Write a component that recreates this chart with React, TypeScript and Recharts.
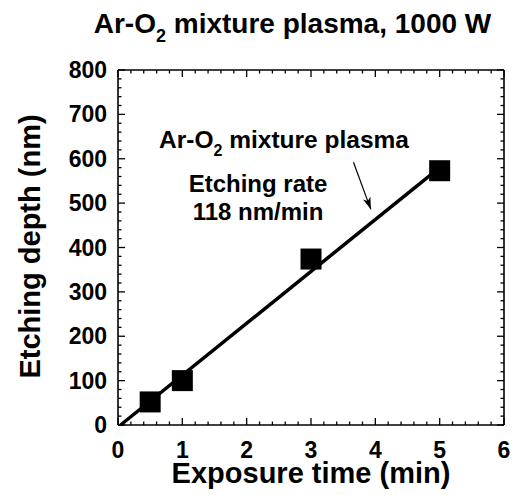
import { ComposedChart, XAxis, YAxis, Line, Scatter, ReferenceLine } from 'recharts';

const timeMin = [0.5, 1, 3, 5];
const depthNm = [52, 100, 374, 573];

// fitted line (118 nm/min)
const fitTime = [0.04, 5];
const fitDepth = [0, 580];

// little arrow pointing at the fit line
const arrowTime = [3.66, 3.93];
const arrowDepth = [592, 486];

const xMajor = [0, 1, 2, 3, 4, 5, 6];
const yMajor = [0, 100, 200, 300, 400, 500, 600, 700, 800];

const withMinor = (major: number[], parts: number) => {
  const out: number[] = [];
  major.forEach((v, i) => {
    out.push(v);
    if (i < major.length - 1) {
      const step = (major[i + 1] - v) / parts;
      for (let j = 1; j < parts; j++) out.push(+(v + j * step).toFixed(4));
    }
  });
  return out;
};

const isMajor = (list: number[], v: number) => list.some((m) => Math.abs(m - v) < 1e-6);

const xTicks = withMinor(xMajor, 5);
const yTicks = withMinor(yMajor, 5);

const points = timeMin.map((t, i) => ({ x: t, y: depthNm[i] }));
const fit = fitTime.map((t, i) => ({ x: t, y: fitDepth[i] }));
const arrow = arrowTime.map((t, i) => ({ x: t, y: arrowDepth[i] }));

// inward tick marks on all four sides of the frame
const xMin = xMajor[0];
const xMax = xMajor[xMajor.length - 1];
const yMin = yMajor[0];
const yMax = yMajor[yMajor.length - 1];
const bottomTicks = xTicks.map((v) => ({ x: v, y: yMin, major: isMajor(xMajor, v) }));
const topTicks = xTicks.map((v) => ({ x: v, y: yMax, major: isMajor(xMajor, v) }));
const leftTicks = yTicks.map((v) => ({ x: xMin, y: v, major: isMajor(yMajor, v) }));
const rightTicks = yTicks.map((v) => ({ x: xMax, y: v, major: isMajor(yMajor, v) }));

const font = '"Liberation Sans", Arial, Helvetica, sans-serif';
const MAJ = 7;
const MIN = 3.5;
const TW = 1.3;

const tickShape = (dx: number, dy: number) => (props: any) => {
  const len = props.payload && props.payload.major ? MAJ : MIN;
  return (
    <line
      x1={props.cx}
      y1={props.cy}
      x2={props.cx + dx * len}
      y2={props.cy + dy * len}
      stroke='#000'
      strokeWidth={TW}
    />
  );
};

const XLabel = (props: any) => (
  <text x={props.x} y={props.y + 33} textAnchor='middle' fontFamily={font} fontWeight='bold' fontSize={23} fill='#000'>
    {props.payload.value}
  </text>
);

const YLabel = (props: any) => (
  <text x={props.x - 11} y={props.y + 8} textAnchor='end' fontFamily={font} fontWeight='bold' fontSize={23} fill='#000'>
    {props.payload.value}
  </text>
);

const frame = { stroke: '#000', strokeWidth: 1.6 };

const Square = (props: any) => (
  <rect x={props.cx - 10.5} y={props.cy - 10.5} width={21} height={21} fill='#000' />
);

const textStyle = { fontFamily: font, fontWeight: 'bold' as const, fill: '#000' };

export default function App() {
  return (
    <div style={{ position: 'absolute', left: 0, top: 0, width: 515, height: 495, background: '#fff' }}>
      <svg width={0} height={0} style={{ position: 'absolute' }}>
        <defs>
          <marker id='arrowHead' viewBox='0 0 12 8' refX='12' refY='4' markerWidth='12' markerHeight='8' markerUnits='userSpaceOnUse' orient='auto'>
            <path d='M0,0 L12,4 L0,8 L3,4 Z' fill='#000' />
          </marker>
        </defs>
      </svg>
      <ComposedChart width={515} height={495} margin={{ top: 70, right: 11, bottom: 0, left: 0 }}>
        <XAxis
          dataKey='x'
          type='number'
          domain={[xMin, xMax]}
          ticks={xMajor}
          interval={0}
          height={70}
          tickSize={0}
          tickMargin={0}
          axisLine={frame}
          tickLine={false}
          tick={XLabel}
        />
        <YAxis
          type='number'
          domain={[yMin, yMax]}
          ticks={yMajor}
          interval={0}
          width={118}
          tickSize={0}
          tickMargin={0}
          axisLine={frame}
          tickLine={false}
          tick={YLabel}
        />
        <ReferenceLine y={yMax} {...frame} ifOverflow='visible' />
        <ReferenceLine x={xMax} {...frame} ifOverflow='visible' />
        <Scatter data={bottomTicks} dataKey='y' shape={tickShape(0, -1)} isAnimationActive={false} />
        <Scatter data={topTicks} dataKey='y' shape={tickShape(0, 1)} isAnimationActive={false} />
        <Scatter data={leftTicks} dataKey='y' shape={tickShape(1, 0)} isAnimationActive={false} />
        <Scatter data={rightTicks} dataKey='y' shape={tickShape(-1, 0)} isAnimationActive={false} />
        <Line data={fit} dataKey='y' stroke='#000' strokeWidth={3.5} dot={false} isAnimationActive={false} />
        <Line
          data={arrow}
          dataKey='y'
          stroke='#000'
          strokeWidth={1.2}
          dot={false}
          markerEnd='url(#arrowHead)'
          isAnimationActive={false}
        />
        <Scatter data={points} dataKey='y' shape={Square} isAnimationActive={false} />
      </ComposedChart>
      <svg width={515} height={495} style={{ position: 'absolute', left: 0, top: 0, pointerEvents: 'none' }}>
        <text x={292.5} y={33} textAnchor='middle' fontSize={28} {...textStyle}>
          Ar-O<tspan fontSize={18} dy={9}>2</tspan>
          <tspan dy={-9}> mixture plasma, 1000 W</tspan>
        </text>
        <text x={284} y={148} textAnchor='middle' fontSize={24.5} {...textStyle}>
          Ar-O<tspan fontSize={16} dy={8}>2</tspan>
          <tspan dy={-8}> mixture plasma</tspan>
        </text>
        <text x={258} y={192} textAnchor='middle' fontSize={24} {...textStyle}>
          Etching rate
        </text>
        <text x={258} y={220} textAnchor='middle' fontSize={24} {...textStyle}>
          118 nm/min
        </text>
        <text x={311} y={483} textAnchor='middle' fontSize={29} {...textStyle}>
          Exposure time (min)
        </text>
        <text x={40} y={246.5} textAnchor='middle' fontSize={29} transform='rotate(-90 40 246.5)' {...textStyle}>
          Etching depth (nm)
        </text>
      </svg>
    </div>
  );
}
